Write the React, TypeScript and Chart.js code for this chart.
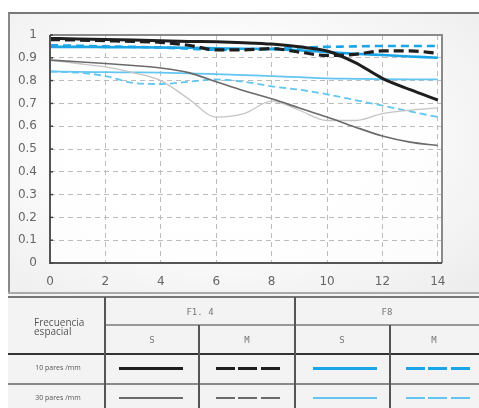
import React, { useEffect, useRef } from "react";
import { Chart, registerables } from "chart.js";
Chart.register(...registerables);

const freqs = [0, 1, 2, 3, 4, 5, 6, 7, 8, 9, 10, 11, 12, 13, 14];
const xTicks = [0, 2, 4, 6, 8, 10, 12, 14];
const yTicks = [0, 0.1, 0.2, 0.3, 0.4, 0.5, 0.6, 0.7, 0.8, 0.9, 1];

const f14S10 = [0.985, 0.983, 0.98, 0.978, 0.975, 0.972, 0.97, 0.966, 0.96, 0.948, 0.93, 0.88, 0.81, 0.76, 0.715];
const f14M10 = [0.98, 0.978, 0.975, 0.972, 0.968, 0.955, 0.935, 0.935, 0.94, 0.925, 0.91, 0.915, 0.93, 0.93, 0.92];
const f8S10 = [0.948, 0.948, 0.947, 0.946, 0.945, 0.944, 0.942, 0.94, 0.938, 0.933, 0.925, 0.918, 0.912, 0.906, 0.9];
const f8M10 = [0.955, 0.953, 0.95, 0.948, 0.945, 0.94, 0.935, 0.935, 0.94, 0.945, 0.948, 0.95, 0.952, 0.952, 0.952];
const f14S30 = [0.89, 0.883, 0.875, 0.866, 0.855, 0.835, 0.795, 0.755, 0.72, 0.68, 0.64, 0.597, 0.557, 0.53, 0.515];
const f14M30 = [0.89, 0.875, 0.86, 0.835, 0.8, 0.72, 0.64, 0.655, 0.71, 0.67, 0.625, 0.625, 0.655, 0.67, 0.68];
const f8S30 = [0.84, 0.838, 0.837, 0.836, 0.835, 0.832, 0.828, 0.824, 0.82, 0.815, 0.81, 0.808, 0.806, 0.805, 0.805];
const f8M30 = [0.84, 0.835, 0.82, 0.79, 0.785, 0.795, 0.805, 0.795, 0.775, 0.76, 0.74, 0.715, 0.69, 0.665, 0.64];

const apertures = ["F1. 4", "F8"];
const types = ["S", "M"];
const rowLabels = ["10 pares /mm", "30 pares /mm"];
const headLabel = ["Frecuencia", "espacial"];

const BLACK = "#1e1e1e";
const GRAY = "#6a6a6a";
const LGRAY = "#c4c4c4";
const BLUE = "#1aa5e6";
const LBLUE = "#62c6f0";

const frame = {
  id: "frame",
  afterDraw(chart: any) {
    const { ctx, chartArea: a } = chart;
    ctx.save();
    ctx.strokeStyle = "#8a8a8a";
    ctx.lineWidth = 2;
    ctx.beginPath();
    ctx.moveTo(a.left, a.top);
    ctx.lineTo(a.right, a.top);
    ctx.lineTo(a.right, a.bottom);
    ctx.stroke();
    ctx.strokeStyle = "#555";
    ctx.beginPath();
    ctx.moveTo(a.left, a.top);
    ctx.lineTo(a.left, a.bottom);
    ctx.lineTo(a.right, a.bottom);
    ctx.stroke();
    // small tick marks on the left axis
    const ys = chart.scales.y;
    ctx.lineWidth = 1.5;
    ctx.strokeStyle = "#444";
    yTicks.forEach((v) => {
      const y = ys.getPixelForValue(v);
      ctx.beginPath();
      ctx.moveTo(a.left, y);
      ctx.lineTo(a.left + 3, y);
      ctx.stroke();
    });
    ctx.restore();
  },
  beforeDraw(chart: any) {
    const { ctx, chartArea: a } = chart;
    ctx.save();
    ctx.fillStyle = "rgba(255,255,255,0.75)";
    ctx.fillRect(a.left, a.top, a.right - a.left, a.bottom - a.top);
    ctx.restore();
  },
};

function ds(label: string, data: number[], color: string, width: number, dash: number[], order: number) {
  return {
    label,
    data: freqs.map((x, i) => ({ x, y: data[i] })),
    borderColor: color,
    borderWidth: width,
    borderDash: dash,
    pointRadius: 0,
    cubicInterpolationMode: "monotone" as const,
    fill: false,
    order,
  };
}

function MtfChart() {
  const ref = useRef<HTMLCanvasElement>(null);
  useEffect(() => {
    const chart = new Chart(ref.current!, {
      type: "line",
      data: {
        datasets: [
          ds("F1.4 S 10", f14S10, BLACK, 3, [], 1),
          ds("F1.4 M 10", f14M10, BLACK, 3.2, [10, 5], 2),
          ds("F8 S 10", f8S10, BLUE, 2.6, [], 3),
          ds("F8 M 10", f8M10, BLUE, 2.6, [8, 5], 4),
          ds("F1.4 S 30", f14S30, GRAY, 1.6, [], 5),
          ds("F1.4 M 30", f14M30, LGRAY, 1.3, [], 6),
          ds("F8 S 30", f8S30, LBLUE, 1.8, [], 7),
          ds("F8 M 30", f8M30, LBLUE, 1.8, [7, 4], 8),
        ],
      },
      options: {
        animation: false,
        responsive: false,
        maintainAspectRatio: false,
        layout: { padding: { top: 23, right: 37, left: 0, bottom: 0 } },
        plugins: { legend: { display: false }, tooltip: { enabled: false } },
        scales: {
          x: {
            type: "linear",
            min: 0,
            max: 14.15,
            afterBuildTicks: (s: any) => {
              s.ticks = xTicks.map((v) => ({ value: v }));
            },
            afterFit: (s: any) => {
              s.height = 30;
            },
            grid: { color: "#bcbcbc", lineWidth: 1, drawTicks: false },
            border: { display: false, dash: [5, 4] },
            ticks: { color: "#666", font: { family: "DejaVu Sans", size: 12 }, padding: 12, maxRotation: 0 },
          },
          y: {
            type: "linear",
            min: 0,
            max: 1,
            afterBuildTicks: (s: any) => {
              s.ticks = yTicks.map((v) => ({ value: v }));
            },
            afterFit: (s: any) => {
              s.width = 42;
            },
            grid: { color: "#bcbcbc", lineWidth: 1, drawTicks: false },
            border: { display: false, dash: [5, 4] },
            ticks: {
              color: "#666",
              font: { family: "DejaVu Sans", size: 12 },
              padding: 13,
              callback: (v: any) => String(Math.round(Number(v) * 10) / 10),
            },
          },
        },
      },
      plugins: [frame],
    });
    return () => chart.destroy();
  }, []);
  return <canvas ref={ref} width={471} height={281} style={{ display: "block", width: 471, height: 281 }} />;
}

function HLine({ x1, x2, y, w, c }: { x1: number; x2: number; y: number; w: number; c: string }) {
  return <div style={{ position: "absolute", left: x1, top: y - w / 2, width: x2 - x1, height: w, background: c }} />;
}
function VLine({ x, y1, y2, w, c }: { x: number; y1: number; y2: number; w: number; c: string }) {
  return <div style={{ position: "absolute", left: x - w / 2, top: y1, width: w, height: y2 - y1, background: c }} />;
}
function Txt({ cx, cy, text, font, size, color }: any) {
  return (
    <div
      style={{
        position: "absolute",
        left: cx - 60,
        top: cy - 10,
        width: 120,
        height: 20,
        lineHeight: "20px",
        textAlign: "center",
        fontFamily: font,
        fontSize: size,
        color,
        whiteSpace: "nowrap",
      }}
    >
      {text}
    </div>
  );
}
function Stroke({ x1, x2, y, w, c, dashed }: any) {
  if (!dashed) return <HLine x1={x1} x2={x2} y={y} w={w} c={c} />;
  const segs = [
    [0, 19],
    [22, 41],
    [45, 64],
  ];
  return (
    <>
      {segs.map(([a, b], i) => (
        <HLine key={i} x1={x1 + a} x2={x1 + b} y={y} w={w} c={c} />
      ))}
    </>
  );
}

export default function App() {
  const mono = "'DejaVu Sans Mono', monospace";
  const sans = "'Open Sans', 'Noto Sans', sans-serif";
  const colS = [152, 342];
  const colM = [247, 434];
  return (
    <div style={{ position: "absolute", left: 0, top: 0, width: 479, height: 408, overflow: "hidden", background: "#fff" }}>
      <div
        style={{
          position: "absolute",
          left: 8,
          top: 12,
          width: 471,
          height: 281,
          background: "radial-gradient(ellipse at 45% 45%, #ffffff 35%, #ececec 100%)",
          borderTop: "2px solid #777",
          borderLeft: "2px solid #888",
          boxSizing: "border-box",
        }}
      />
      <div style={{ position: "absolute", left: 8, top: 12 }}>
        <MtfChart />
      </div>
      <div style={{ position: "absolute", left: 8, top: 293, width: 471, height: 115, background: "#f3f3f3" }} />
      <HLine x1={8} x2={479} y={293} w={2} c="#aaa" />
      <HLine x1={8} x2={479} y={297} w={2} c="#777" />
      <HLine x1={105} x2={479} y={325} w={1.5} c="#999" />
      <HLine x1={8} x2={479} y={354} w={2} c="#333" />
      <HLine x1={8} x2={479} y={384} w={1.5} c="#888" />
      <VLine x={105} y1={297} y2={408} w={2} c="#555" />
      <VLine x={295} y1={297} y2={408} w={2} c="#555" />
      <VLine x={199} y1={325} y2={408} w={2} c="#555" />
      <VLine x={390} y1={325} y2={408} w={2} c="#555" />
      <Txt cx={200} cy={312} text={apertures[0]} font={mono} size={9} color="#777" />
      <Txt cx={387} cy={312} text={apertures[1]} font={mono} size={9} color="#777" />
      <Txt cx={colS[0]} cy={340} text={types[0]} font={mono} size={9} color="#777" />
      <Txt cx={colM[0]} cy={340} text={types[1]} font={mono} size={9} color="#777" />
      <Txt cx={colS[1]} cy={340} text={types[0]} font={mono} size={9} color="#777" />
      <Txt cx={colM[1]} cy={340} text={types[1]} font={mono} size={9} color="#777" />
      <div
        style={{
          position: "absolute",
          left: 34,
          top: 318,
          fontFamily: sans,
          fontSize: 10,
          lineHeight: "9px",
          color: "#555",
        }}
      >
        {headLabel[0]}
        <br />
        {headLabel[1]}
      </div>
      <Txt cx={58} cy={368} text={rowLabels[0]} font={sans} size={7} color="#555" />
      <Txt cx={58} cy={398} text={rowLabels[1]} font={sans} size={7} color="#555" />
      <Stroke x1={119} x2={183} y={368} w={3} c={BLACK} />
      <Stroke x1={216} x2={280} y={368} w={3} c={BLACK} dashed />
      <Stroke x1={313} x2={377} y={368} w={3} c={BLUE} />
      <Stroke x1={406} x2={470} y={368} w={3} c={BLUE} dashed />
      <Stroke x1={119} x2={183} y={398} w={2} c={GRAY} />
      <Stroke x1={216} x2={280} y={398} w={2} c={GRAY} dashed />
      <Stroke x1={313} x2={377} y={398} w={2} c={LBLUE} />
      <Stroke x1={406} x2={470} y={398} w={2} c={LBLUE} dashed />
    </div>
  );
}
